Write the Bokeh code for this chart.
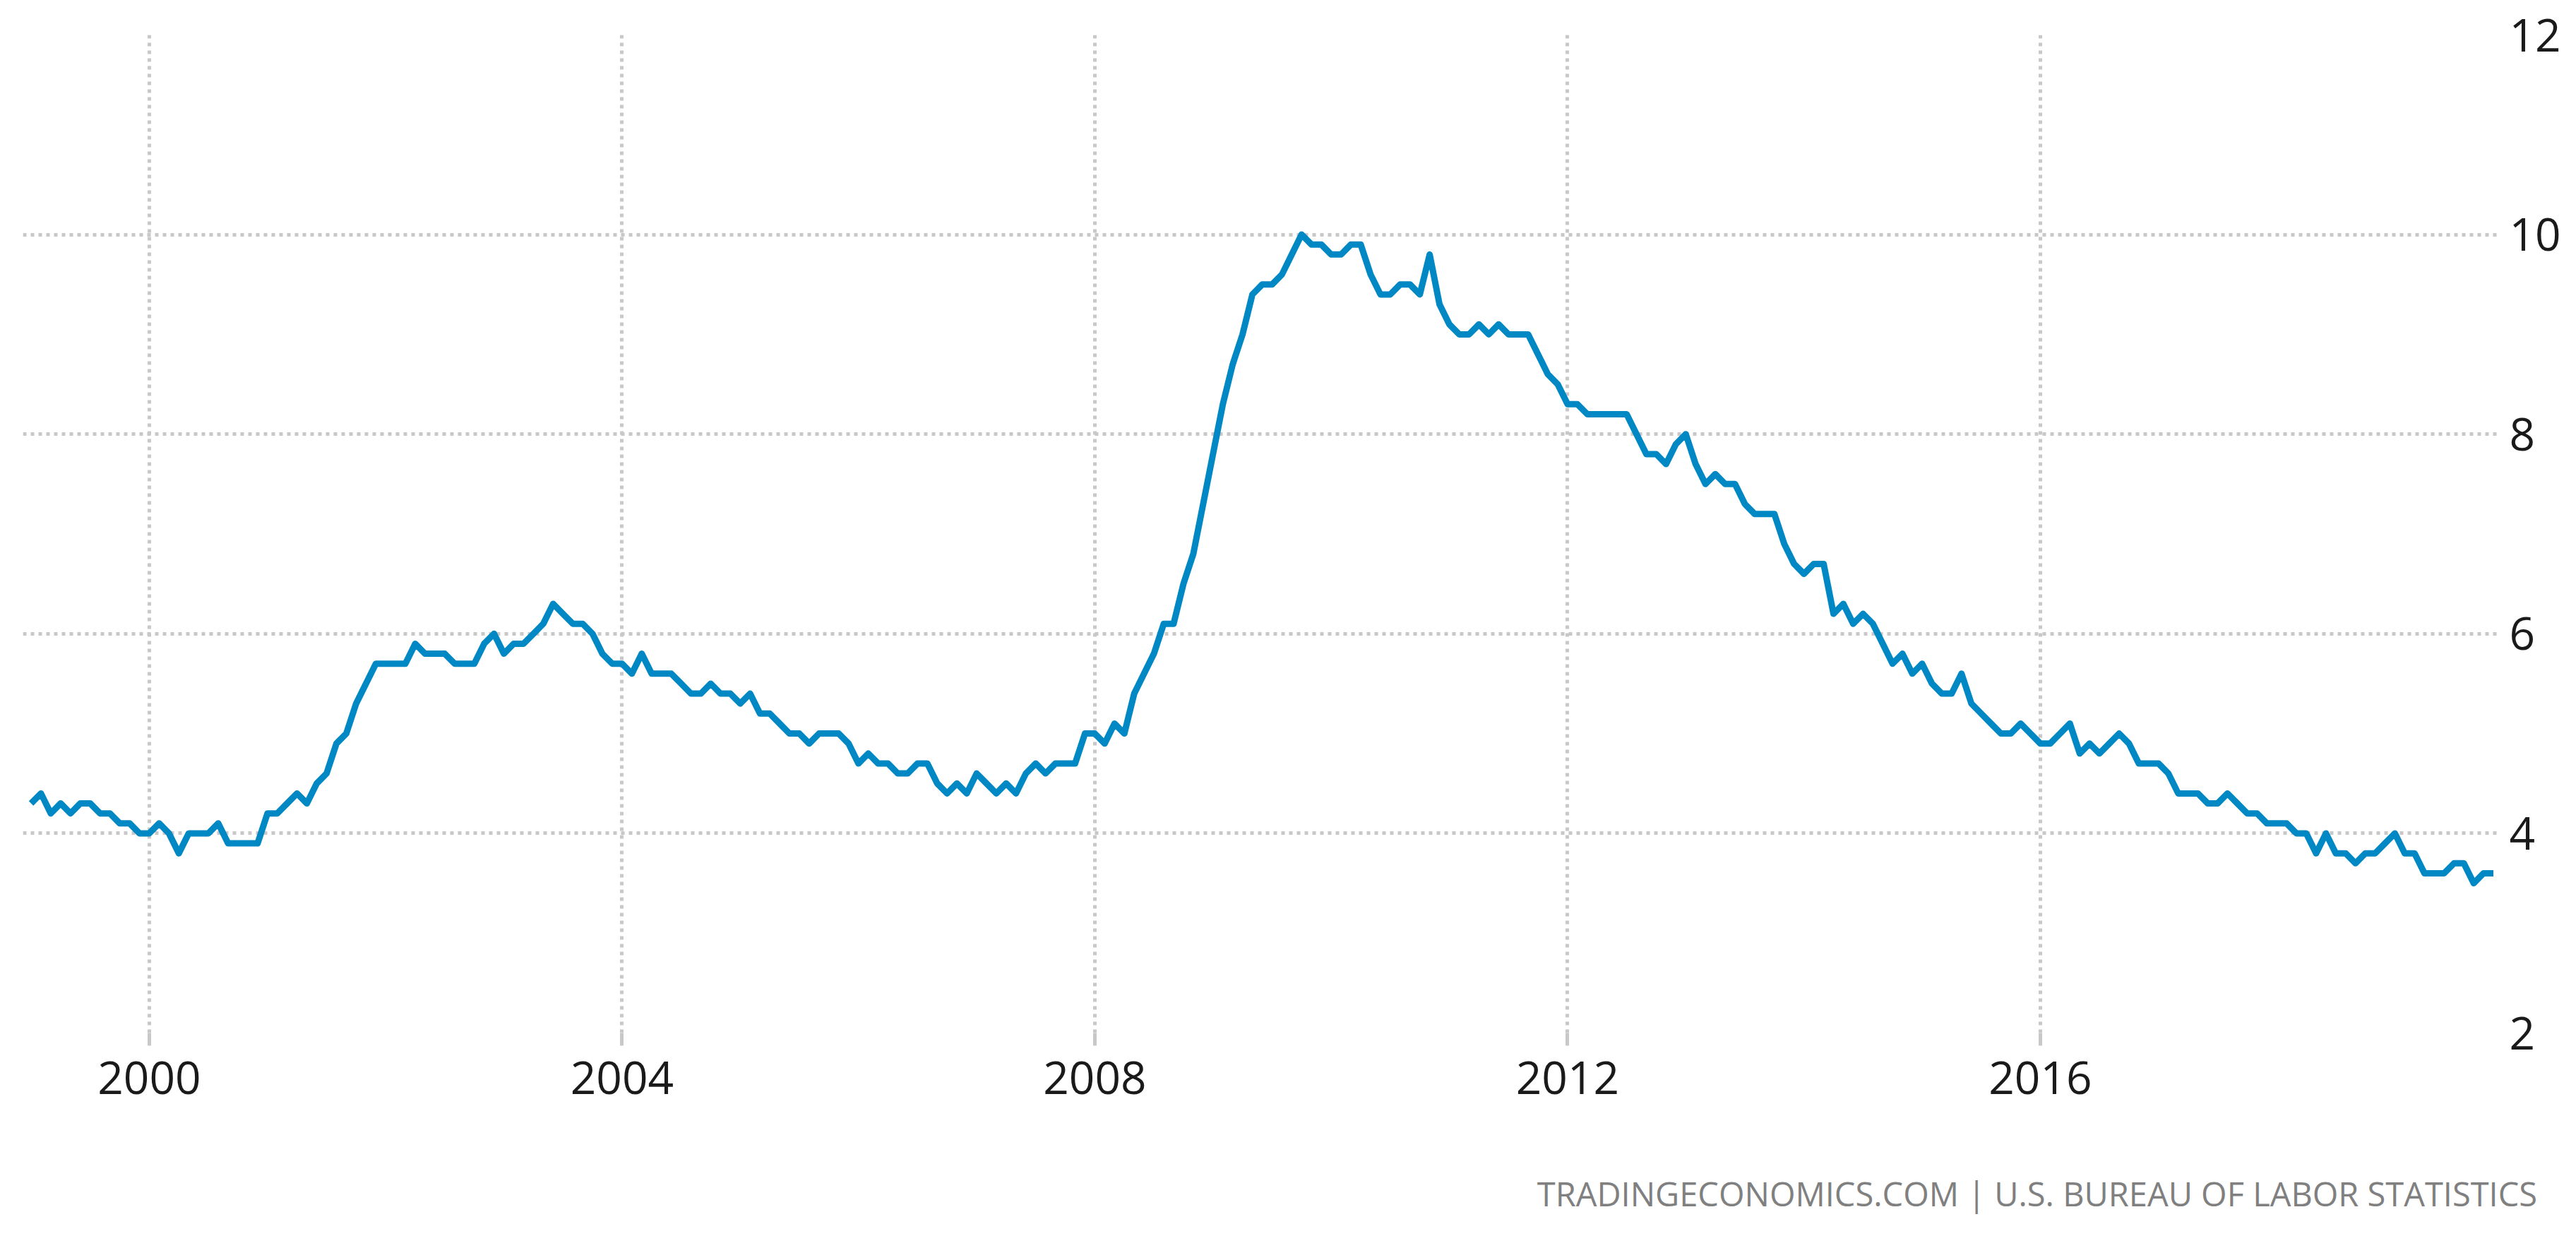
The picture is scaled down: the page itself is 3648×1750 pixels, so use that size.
from bokeh.plotting import figure
from bokeh.models import FixedTicker, Range1d, Title, ColumnDataSource
from bokeh.embed import file_html
from bokeh.resources import INLINE

# US unemployment rate (%), monthly, Jan 1999 - Nov 2019
u1999 = [4.3, 4.4, 4.2, 4.3, 4.2, 4.3, 4.3, 4.2, 4.2, 4.1, 4.1, 4.0]
u2000 = [4.0, 4.1, 4.0, 3.8, 4.0, 4.0, 4.0, 4.1, 3.9, 3.9, 3.9, 3.9]
u2001 = [4.2, 4.2, 4.3, 4.4, 4.3, 4.5, 4.6, 4.9, 5.0, 5.3, 5.5, 5.7]
u2002 = [5.7, 5.7, 5.7, 5.9, 5.8, 5.8, 5.8, 5.7, 5.7, 5.7, 5.9, 6.0]
u2003 = [5.8, 5.9, 5.9, 6.0, 6.1, 6.3, 6.2, 6.1, 6.1, 6.0, 5.8, 5.7]
u2004 = [5.7, 5.6, 5.8, 5.6, 5.6, 5.6, 5.5, 5.4, 5.4, 5.5, 5.4, 5.4]
u2005 = [5.3, 5.4, 5.2, 5.2, 5.1, 5.0, 5.0, 4.9, 5.0, 5.0, 5.0, 4.9]
u2006 = [4.7, 4.8, 4.7, 4.7, 4.6, 4.6, 4.7, 4.7, 4.5, 4.4, 4.5, 4.4]
u2007 = [4.6, 4.5, 4.4, 4.5, 4.4, 4.6, 4.7, 4.6, 4.7, 4.7, 4.7, 5.0]
u2008 = [5.0, 4.9, 5.1, 5.0, 5.4, 5.6, 5.8, 6.1, 6.1, 6.5, 6.8, 7.3]
u2009 = [7.8, 8.3, 8.7, 9.0, 9.4, 9.5, 9.5, 9.6, 9.8, 10.0, 9.9, 9.9]
u2010 = [9.8, 9.8, 9.9, 9.9, 9.6, 9.4, 9.4, 9.5, 9.5, 9.4, 9.8, 9.3]
u2011 = [9.1, 9.0, 9.0, 9.1, 9.0, 9.1, 9.0, 9.0, 9.0, 8.8, 8.6, 8.5]
u2012 = [8.3, 8.3, 8.2, 8.2, 8.2, 8.2, 8.2, 8.0, 7.8, 7.8, 7.7, 7.9]
u2013 = [8.0, 7.7, 7.5, 7.6, 7.5, 7.5, 7.3, 7.2, 7.2, 7.2, 6.9, 6.7]
u2014 = [6.6, 6.7, 6.7, 6.2, 6.3, 6.1, 6.2, 6.1, 5.9, 5.7, 5.8, 5.6]
u2015 = [5.7, 5.5, 5.4, 5.4, 5.6, 5.3, 5.2, 5.1, 5.0, 5.0, 5.1, 5.0]
u2016 = [4.9, 4.9, 5.0, 5.1, 4.8, 4.9, 4.8, 4.9, 5.0, 4.9, 4.7, 4.7]
u2017 = [4.7, 4.6, 4.4, 4.4, 4.4, 4.3, 4.3, 4.4, 4.3, 4.2, 4.2, 4.1]
u2018 = [4.1, 4.1, 4.0, 4.0, 3.8, 4.0, 3.8, 3.8, 3.7, 3.8, 3.8, 3.9]
u2019 = [4.0, 3.8, 3.8, 3.6, 3.6, 3.6, 3.7, 3.7, 3.5, 3.6, 3.6]

yearly = [u1999, u2000, u2001, u2002, u2003, u2004, u2005, u2006, u2007, u2008,
          u2009, u2010, u2011, u2012, u2013, u2014, u2015, u2016, u2017, u2018, u2019]
first_year = 1999

x_ticks = [2000, 2004, 2008, 2012, 2016]
y_ticks = [2, 4, 6, 8, 10, 12]
source_text = "TRADINGECONOMICS.COM  |  U.S. BUREAU OF LABOR STATISTICS"

xs, ys = [], []
for i, vals in enumerate(yearly):
    for m, v in enumerate(vals):
        xs.append(first_year + i + m / 12.0)
        ys.append(v)
src = ColumnDataSource(data=dict(x=xs, y=ys))

p = figure(width=3632, height=1734, output_backend="svg", toolbar_location=None, tools="",
           x_range=Range1d(1998.931, 2019.884), y_range=Range1d(2, 12),
           y_axis_location="right",
           min_border_left=32, min_border_top=49, min_border_right=93, min_border_bottom=272)
p.outline_line_color = None
p.background_fill_color = "white"
p.border_fill_color = "white"

grid_color = "#c8c8c8"
xt = FixedTicker(ticks=x_ticks)
yt = FixedTicker(ticks=y_ticks)
p.xaxis.ticker = xt
p.xgrid.ticker = xt
p.yaxis.ticker = yt
p.ygrid.ticker = yt
for g in (p.xgrid, p.ygrid):
    g.grid_line_color = grid_color
    g.grid_line_width = 5
    g.grid_line_dash = "5 6"

p.xaxis.axis_line_color = None
p.xaxis.major_tick_line_color = grid_color
p.xaxis.major_tick_line_width = 5
p.xaxis.major_tick_out = 18
p.xaxis.major_tick_in = 0
p.xaxis.minor_tick_line_color = None
p.xaxis.major_label_standoff = 22

p.yaxis.axis_line_color = None
p.yaxis.major_tick_line_color = None
p.yaxis.minor_tick_line_color = None
p.yaxis.major_tick_out = 0
p.yaxis.major_tick_in = 0
p.yaxis.major_label_standoff = 14

for ax in (p.xaxis, p.yaxis):
    ax.major_label_text_font = "Open Sans"
    ax.major_label_text_font_size = "64px"
    ax.major_label_text_color = "#1a1a1a"

p.line("x", "y", source=src, line_color="#0088c4", line_width=9, line_join="round")

spacer = Title(text=" ", text_font_size="2px", standoff=100)
p.add_layout(spacer, "below")
footer = Title(text=source_text, align="right", text_font="Open Sans",
               text_font_size="47px", text_font_style="normal", text_color="#808080",
               standoff=0, offset=-78)
p.add_layout(footer, "below")

open("out.html", "w").write(file_html(p, INLINE))
